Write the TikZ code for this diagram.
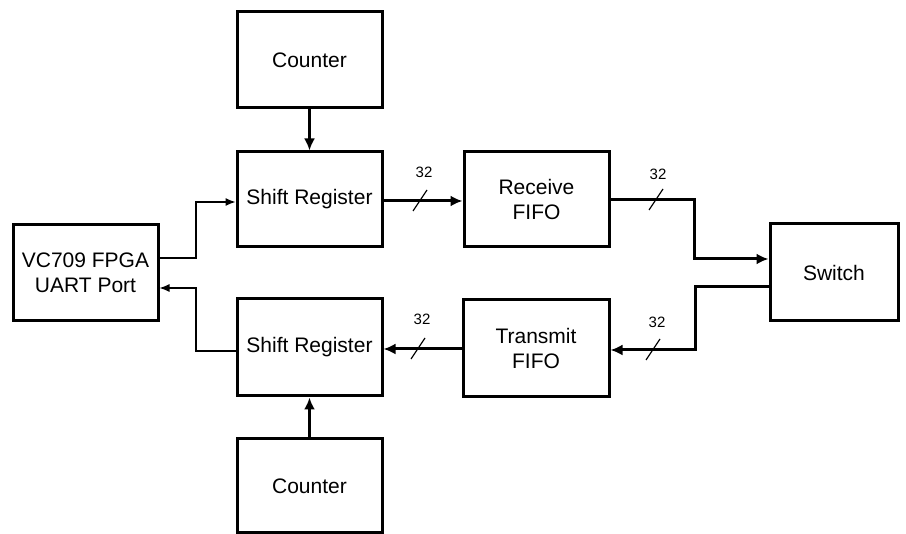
\documentclass[tikz,border=0pt]{standalone}
\usepackage{fontspec}
\setmainfont{Liberation Sans}
\usetikzlibrary{arrows.meta,calc}
\begin{document}
\begin{tikzpicture}[x=1pt,y=-1pt,
  blk/.style={draw,line width=3pt,rectangle,inner sep=0pt,align=center,
    font=\fontsize{21}{25}\selectfont},
  bus/.style={line width=3pt,-{Latex[length=12pt,width=11pt]}},
  wire/.style={line width=1.2pt,-{Latex[length=10pt,width=8pt]}},
  tick/.style={line width=1.2pt},
  width/.style={font=\fontsize{15}{17}\selectfont}]
\useasboundingbox (0,0) rectangle (906,534);

% blocks
\node[blk,minimum width=145pt,minimum height=96pt] (cntT) at (309.5,60) {Counter};
\node[blk,minimum width=145pt,minimum height=95pt] (srT) at (309.5,199.5) {Shift Register};
\node[blk,minimum width=145pt,minimum height=95pt] (rx) at (536.5,199.5) {Receive\\FIFO};
\node[blk,minimum width=145pt,minimum height=96pt] (uart) at (85.5,273) {VC709 FPGA\\UART Port};
\node[blk,minimum width=128pt,minimum height=97pt] (sw) at (834,272.5) {Switch};
\node[blk,minimum width=145pt,minimum height=97pt] (srB) at (309.5,347.5) {Shift Register};
\node[blk,minimum width=146pt,minimum height=97pt] (tx) at (536,348.5) {Transmit\\FIFO};
\node[blk,minimum width=145pt,minimum height=94pt] (cntB) at (309.5,486) {Counter};

% counters into shift registers
\draw[bus] (cntT.south) -- (srT.north);
\draw[bus] (cntB.north) -- (srB.south);

% serial port links
\draw[wire] (uart.east |- 0,258) -- (196,258) -- (196,202) -- (srT.west |- 0,202);
\draw[wire] (srB.west |- 0,351) -- (196,351) -- (196,288) -- (uart.east |- 0,288);

% 32-bit buses
\draw[bus] (srT.east |- 0,201) -- (rx.west |- 0,201);
\draw[bus] (rx.east |- 0,200) -- (694,200) -- (694,259) -- (sw.west |- 0,259);
\draw[bus] (sw.west |- 0,287) -- (695,287) -- (695,350) -- (tx.east |- 0,350);
\draw[bus] (tx.west |- 0,349) -- (srB.east |- 0,349);

% bus width marks
\coordinate (t1) at (420,201);
\coordinate (t2) at (656,200);
\coordinate (t3) at (653,350);
\coordinate (t4) at (418,349);
\foreach \t in {t1,t2,t3,t4}
  \draw[tick] ($(\t)+(-7,10)$) -- ($(\t)+(7,-11)$);
\node[width] (w1) at (424,172) {32};
\node[width] (w2) at (658,174) {32};
\node[width] (w3) at (657,322) {32};
\node[width] (w4) at (422,319) {32};
\end{tikzpicture}
\end{document}
